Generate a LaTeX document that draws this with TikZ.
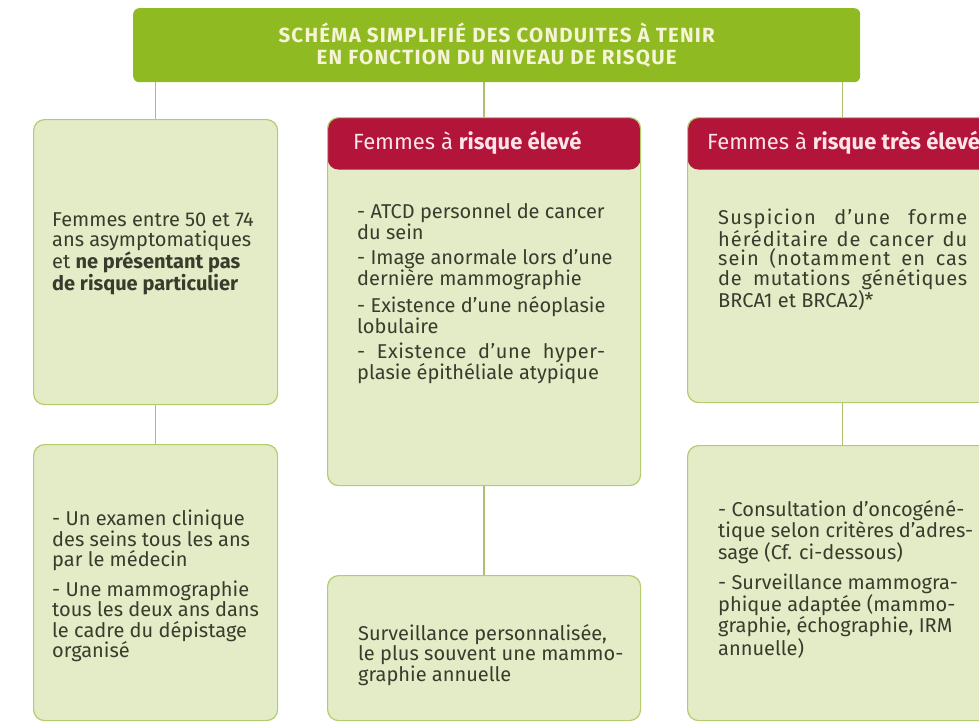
\documentclass[tikz,border=0pt]{standalone}
\usepackage{fontspec}
\setmainfont{Fira Sans}
\usetikzlibrary{positioning}

\definecolor{titlegreen}{RGB}{143,186,34}
\definecolor{titletext}{RGB}{246,244,214}
\definecolor{boxfill}{RGB}{227,235,199}
\definecolor{boxline}{RGB}{180,204,110}
\definecolor{linkline}{RGB}{172,192,112}
\definecolor{headred}{RGB}{178,20,58}
\definecolor{headtext}{RGB}{252,228,232}
\definecolor{bodytext}{RGB}{56,60,44}

% spread line of a justified text
\newcommand{\spreadline}[3]{\makebox[#1][s]{\addfontfeature{LetterSpace=#2}#3}}

\tikzset{
  box/.style={draw=boxline, fill=boxfill, line width=1.2pt, rounded corners=11pt,
    anchor=north west, inner sep=0pt},
  redbox/.style={box, path picture={\fill[headred] (path picture bounding box.north west)
    rectangle ([yshift=-52pt]path picture bounding box.north east);}},
  txt/.style={anchor=north west, inner sep=0pt, align=left, text=bodytext,
    font=\fontsize{20}{#1}\selectfont},
  txt/.default=19.5,
  headtxt/.style={anchor=west, inner sep=0pt, text=headtext,
    font=\fontsize{22}{24}\selectfont},
  link/.style={draw=linkline, line width=1.5pt}
}

\begin{document}
\begin{tikzpicture}[x=1pt,y=-1pt]
	\useasboundingbox (0,0) rectangle (979,723);
	\clip (0,0) rectangle (979,723);

	% title
	\node[fill=titlegreen, rounded corners=6pt, anchor=north west, minimum width=727,
		minimum height=74, inner sep=0pt, align=center, text=titletext,
		font=\bfseries\fontsize{20.5}{22}\selectfont\addfontfeature{LetterSpace=6}] (title) at (133,8)
		{SCHÉMA SIMPLIFIÉ DES CONDUITES À TENIR\\EN FONCTION DU NIVEAU DE RISQUE};

	%---------------------
	% boxes
	%---------------------
	% left
	\node[box, minimum width=244, minimum height=285] (L1) at (33,119) {};
	\node[box, minimum width=244, minimum height=276] (L2) at (33,444) {};
	% middle
	\node[redbox, minimum width=313, minimum height=368] (M1) at (327,117) {};
	\node[box, minimum width=313, minimum height=145] (M2) at (327,575) {};
	% right
	\node[redbox, minimum width=310, minimum height=285] (R1) at (687,117) {};
	\node[box, minimum width=310, minimum height=275] (R2) at (687,445) {};

	% links
	\draw[link] (title.south -| L1.north) -- (L1.north);
	\draw[link] (title.south -| M1.north) -- (M1.north);
	\draw[link] (title.south -| R1.north) -- (R1.north);
	\draw[link] (L1.south) -- (L2.north);
	\draw[link] (M1.south) -- (M2.north);
	\draw[link] (R1.south) -- (R2.north);

	%---------------------
	% texts
	%---------------------
	% headers
	\node[headtxt] (M1h) at (353,143) {Femmes à \textbf{risque élevé}};
	\node[headtxt] (R1h) at (707,143) {Femmes à \textbf{risque très élevé}};

	% left
	\node[txt=19.5] (L1t) at (52,213) {Femmes entre 50 et 74\\ans asymptomatiques\\
		et \textbf{ne présentant pas}\\\textbf{de risque particulier}};
	\node[txt=20.5] (L2t) at (52,510) {- Un examen clinique\\des seins tous les ans\\
		par le médecin\\[9pt]- Une mammographie\\tous les deux ans dans\\
		le cadre du dépistage\\organisé};

	% middle
	\node[txt=19] (M1t) at (357,203) {- ATCD personnel de cancer\\du sein\\[6pt]
		- Image anormale lors d’une\\dernière mammographie\\[6pt]
		- Existence d’une néoplasie\\lobulaire\\[6pt]
		\spreadline{248pt}{3}{- Existence d’une hyper-}\\plasie épithéliale atypique};
	\node[txt=19] (M2t) at (358,624) {Surveillance personnalisée,\\
		le plus souvent une mammo-\\graphie annuelle};

	% right
	\node[txt=19.5] (R1t) at (718,209) {\spreadline{249pt}{6}{Suspicion d’une forme}\\
		\spreadline{249pt}{5}{héréditaire de cancer du}\\
		\spreadline{249pt}{5}{sein (notamment en cas}\\
		\spreadline{249pt}{3}{de mutations génétiques}\\BRCA1 et BRCA2)*};
	\node[txt=19.5] (R2t) at (718,500) {- Consultation d’oncogéné-\\tique selon critères d’adres-\\
		sage (Cf. ci-dessous)\\[9pt]- Surveillance mammogra-\\phique adaptée (mammo-\\
		graphie, échographie, IRM\\annuelle)};
\end{tikzpicture}
\end{document}
